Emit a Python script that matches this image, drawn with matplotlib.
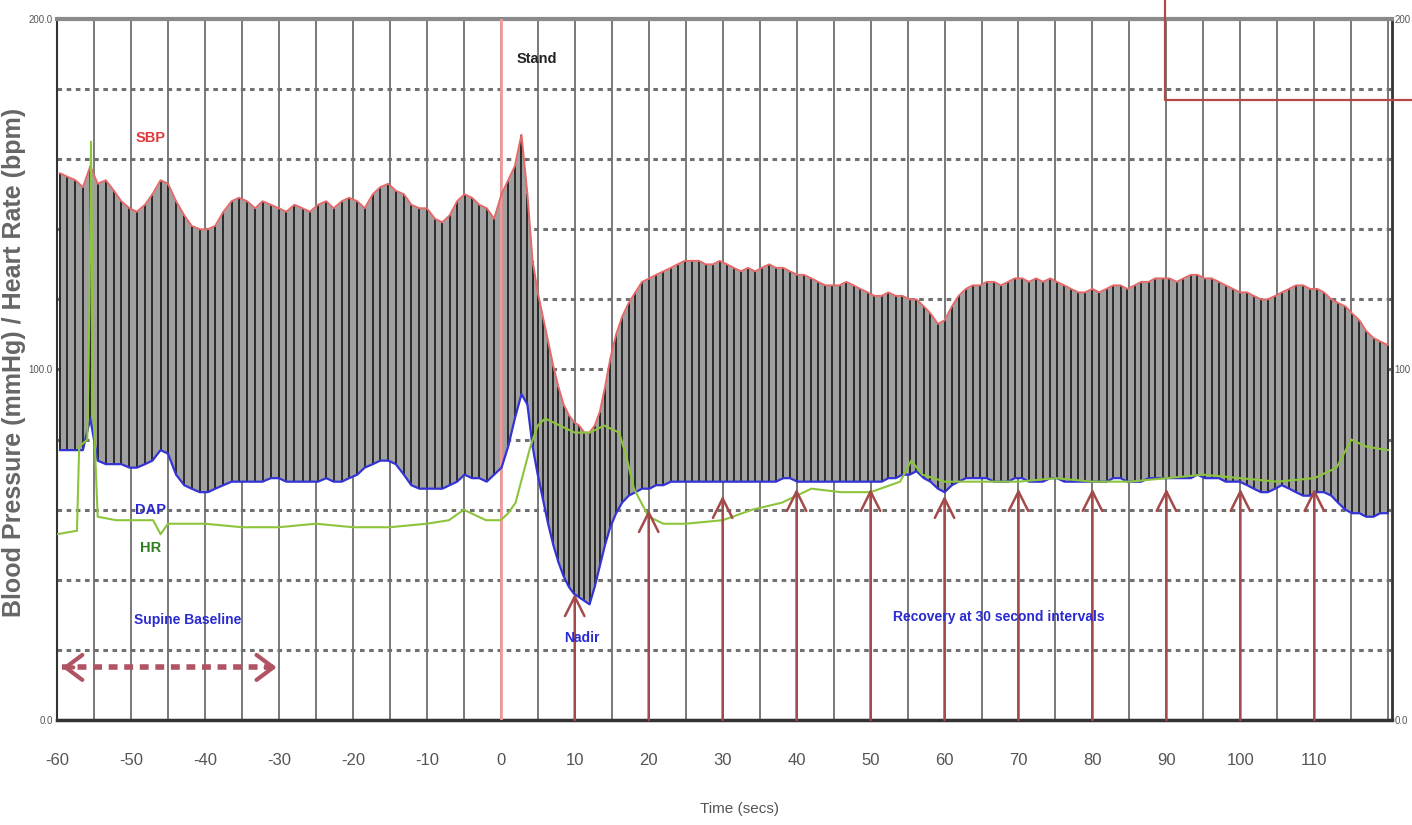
import matplotlib
matplotlib.use("Agg")
import matplotlib.pyplot as plt
from matplotlib.ticker import MultipleLocator, FixedLocator
from matplotlib.lines import Line2D

plt.rcParams["axes.unicode_minus"] = False

# ---------------- data ----------------
beat_t = [-59.6, -58.6, -57.5, -56.5, -55.5, -54.5, -53.4, -52.3, -51.3, -50.2,
          -49.2, -48.1, -47.1, -46.0, -45.0, -43.9, -42.8, -41.8, -40.7, -39.6,
          -38.6, -37.5, -36.4, -35.4, -34.3, -33.2, -32.2, -31.1, -30.0, -29.0,
          -27.9, -26.8, -25.8, -24.7, -23.6, -22.6, -21.5, -20.5, -19.4, -18.4,
          -17.3, -16.3, -15.2, -14.2, -13.1, -12.1, -11.0, -10.0, -8.9, -7.9,
          -6.9, -5.9, -4.9, -3.9, -2.9, -1.9, -0.9,
          0.1, 1.0, 1.9, 2.8, 3.6, 4.3, 5.0, 5.7, 6.4, 7.1,
          7.8, 8.5, 9.2, 9.9, 10.6, 11.3, 12.0, 12.7, 13.4, 14.1,
          14.8, 15.6, 16.4, 17.3, 18.2, 19.1, 20.1, 21.0, 22.0, 23.0,
          23.9, 24.9, 25.8, 26.8, 27.7, 28.7, 29.6, 30.6, 31.5, 32.5,
          33.4, 34.4, 35.3, 36.3, 37.2, 38.2, 39.1, 40.1, 41.0, 42.0,
          42.9, 43.9, 44.8, 45.8, 46.7, 47.7, 48.6, 49.6, 50.5, 51.5,
          52.4, 53.4, 54.3, 55.3, 56.2, 57.2, 58.1, 59.1, 60.0, 61.0,
          61.9, 62.9, 63.8, 64.8, 65.7, 66.7, 67.6, 68.6, 69.5, 70.5,
          71.4, 72.4, 73.3, 74.3, 75.2, 76.2, 77.1, 78.1, 79.0, 80.0,
          80.9, 81.9, 82.8, 83.8, 84.7, 85.7, 86.6, 87.6, 88.5, 89.5,
          90.4, 91.4, 92.3, 93.3, 94.2, 95.2, 96.1, 97.1, 98.0, 99.0,
          99.9, 100.9, 101.8, 102.8, 103.7, 104.7, 105.6, 106.6, 107.5, 108.5,
          109.4, 110.4, 111.3, 112.3, 113.2, 114.2, 115.1, 116.1, 117.0, 118.0,
          118.9, 119.9]

sbp = [156, 155, 154, 152, 158, 153, 154, 151, 148, 146,
       145, 147, 150, 154, 153, 148, 144, 141, 140, 140,
       141, 145, 148, 149, 148, 146, 148, 147, 146, 145,
       147, 146, 145, 147, 148, 146, 148, 149, 148, 146,
       150, 152, 153, 151, 150, 147, 146, 146, 143, 142,
       144, 148, 150, 149, 147, 146, 143,
       150, 154, 158, 167, 150, 131, 122, 115, 108, 101,
       95, 90, 87, 85, 84, 82, 82, 84, 88, 95,
       103, 110, 115, 119, 122, 125, 126, 127, 128, 129,
       130, 131, 131, 131, 130, 130, 131, 130, 129, 128,
       129, 128, 129, 130, 129, 129, 128, 127, 127, 126,
       125, 124, 124, 124, 125, 124, 123, 122, 121, 121,
       122, 121, 121, 120, 120, 118, 116, 113, 114, 118,
       121, 123, 124, 124, 125, 125, 124, 125, 126, 126,
       125, 126, 125, 126, 125, 124, 123, 122, 122, 123,
       122, 123, 124, 124, 123, 124, 125, 125, 126, 126,
       126, 125, 126, 127, 127, 126, 126, 125, 124, 123,
       122, 122, 121, 120, 120, 121, 122, 123, 124, 124,
       123, 123, 122, 120, 119, 118, 116, 114, 111, 109,
       108, 107]

dbp = [77, 77, 77, 77, 86, 74, 73, 73, 73, 72,
       72, 73, 74, 77, 76, 70, 67, 66, 65, 65,
       66, 67, 68, 68, 68, 68, 68, 69, 69, 68,
       68, 68, 68, 68, 69, 68, 68, 69, 70, 72,
       73, 74, 74, 73, 70, 67, 66, 66, 66, 66,
       67, 68, 70, 69, 69, 68, 70,
       72, 78, 86, 93, 90, 78, 70, 63, 56, 50,
       45, 41, 38, 36, 35, 34, 33, 38, 44, 50,
       55, 59, 62, 64, 65, 66, 66, 67, 67, 68,
       68, 68, 68, 68, 68, 68, 68, 68, 68, 68,
       68, 68, 68, 68, 68, 69, 69, 68, 68, 68,
       68, 68, 68, 68, 68, 68, 68, 68, 68, 68,
       69, 69, 70, 70, 71, 69, 68, 66, 65, 67,
       68, 69, 69, 69, 69, 68, 68, 68, 69, 69,
       68, 68, 68, 69, 69, 68, 68, 68, 68, 68,
       68, 68, 69, 69, 68, 68, 68, 69, 69, 69,
       69, 69, 69, 69, 70, 69, 69, 69, 68, 68,
       68, 67, 66, 65, 65, 66, 67, 66, 65, 64,
       64, 65, 65, 64, 62, 60, 59, 59, 58, 58,
       59, 59]

hr_t = [-60, -57.3, -57.0, -55.9, -55.6, -55.4, -55.1, -54.5, -52, -49,
        -47, -46, -45, -43, -40, -35, -30, -25, -20, -15,
        -10, -7, -5, -4, -2, 0, 1, 2, 3, 4,
        5, 6, 8, 10, 12, 14, 16, 17, 18, 20,
        22, 25, 30, 34, 38, 40, 42, 46, 50, 54,
        55.5, 57, 60, 65, 70, 75, 80, 85, 90, 95,
        100, 105, 110, 113, 115, 117, 120]
hr = [53, 54, 78, 80, 120, 165, 90, 58, 57, 57,
      57, 53, 56, 56, 56, 55, 55, 56, 55, 55,
      56, 57, 60, 59, 57, 57, 59, 62, 70, 78,
      84, 86, 84, 82, 82, 84, 82, 75, 66, 58,
      56, 56, 57, 60, 62, 64, 66, 65, 65, 68,
      74, 70, 68, 68, 68, 69, 68, 68, 69, 70,
      69, 68, 69, 72, 80, 78, 77]

xtick_vals = [-60, -50, -40, -30, -20, -10, 0, 10, 20, 30, 40, 50, 60, 70, 80, 90, 100, 110]
ytick_vals = [0, 100, 200]
ytick_labels = ["0.0", "100.0", "200.0"]
ytick_labels_right = ["0.0", "100", "200"]

recovery_t = [20, 30, 40, 50, 60, 70, 80, 90, 100, 110]
recovery_head = [60, 64, 66, 66, 64, 66, 66, 66, 66, 66]
nadir_t, nadir_head = 10, 36
stand_t = 0
supine_span = [-59.3, -30.3]
supine_y = 15

# ---------------- styling ----------------
FAM = ["Liberation Sans", "DejaVu Sans"]
W, H = 1412, 825
fig = plt.figure(figsize=(W / 100, H / 100), dpi=100)
ax = fig.add_axes([57 / W, 1 - 720 / H, (1392 - 57) / W, (720 - 19) / H])

ax.set_xlim(-60, 120.5)
ax.set_ylim(0, 200)

# grid
ax.xaxis.set_major_locator(FixedLocator(xtick_vals))
ax.xaxis.set_minor_locator(MultipleLocator(5))
ax.yaxis.set_major_locator(FixedLocator(ytick_vals))
ax.yaxis.set_minor_locator(MultipleLocator(20))
ax.set_yticklabels(ytick_labels)
ax.grid(which="both", axis="x", color="#6e6e6e", lw=1.3, ls="-")
ax.grid(which="both", axis="y", color="#707070", lw=2.2, ls=(0, (1.5, 1.5)))
ax.set_axisbelow(True)

# pressure waveform
ax.fill_between(beat_t, dbp, sbp, color="#a0a0a0", lw=0, zorder=2)
ax.vlines(beat_t, dbp, sbp, color="#2a2a2a", lw=1.4, zorder=3)

# stand marker
ax.axvline(stand_t, color="#f29a9a", lw=2, zorder=4)

# envelopes
ax.plot(beat_t, sbp, color="#e46a6a", lw=1.4, zorder=5)
ax.plot(beat_t, dbp, color="#3434d6", lw=1.6, zorder=5)
ax.plot(hr_t, hr, color="#8cc43c", lw=1.5, zorder=5)

# arrows
arrow_col = "#a34a4a"
astyle = "->,head_length=0.7,head_width=0.35"
for t, h in zip(recovery_t, recovery_head):
    ax.annotate("", xy=(t, h), xytext=(t, 0),
                arrowprops=dict(arrowstyle=astyle, color=arrow_col, lw=1.8,
                                mutation_scale=20, shrinkA=0, shrinkB=0), zorder=6)
ax.annotate("", xy=(nadir_t, nadir_head), xytext=(nadir_t, 0),
            arrowprops=dict(arrowstyle=astyle, color=arrow_col, lw=1.8,
                            mutation_scale=20, shrinkA=0, shrinkB=0), zorder=6)

# supine baseline double arrow
base_col = "#b05464"
ax.plot(supine_span, [supine_y, supine_y], color=base_col, lw=4,
        ls=(0, (1.6, 1.2)), zorder=6, solid_capstyle="butt")
hstyle = "->,head_length=0.6,head_width=0.45"
ax.annotate("", xy=(supine_span[0], supine_y), xytext=(supine_span[0] + 1.5, supine_y),
            arrowprops=dict(arrowstyle=hstyle, color=base_col, lw=3, mutation_scale=20,
                            shrinkA=0, shrinkB=0), zorder=6)
ax.annotate("", xy=(supine_span[1], supine_y), xytext=(supine_span[1] - 1.5, supine_y),
            arrowprops=dict(arrowstyle=hstyle, color=base_col, lw=3, mutation_scale=20,
                            shrinkA=0, shrinkB=0), zorder=6)

# text labels
tk = dict(family=FAM, fontweight="bold", zorder=7, ha="center", va="center")
ax.text(-47.4, 166, "SBP", color="#e03a3a", fontsize=10.5, **tk)
ax.text(-47.4, 60, "DAP", color="#2a2ad0", fontsize=10.5, **tk)
ax.text(-47.4, 49, "HR", color="#2f7f1f", fontsize=10.5, **tk)
ax.text(-42.3, 28.6, "Supine Baseline", color="#2a2ad0", fontsize=10, **tk)
ax.text(4.9, 188.6, "Stand", color="#222222", fontsize=10.5, **tk)
ax.text(11, 23.4, "Nadir", color="#2a2ad0", fontsize=10, **tk)
ax.text(67.3, 29.4, "Recovery at 30 second intervals", color="#2a2ad0", fontsize=10, **tk)

# spines
for s in ["left", "bottom", "right"]:
    ax.spines[s].set_color("#333333")
ax.spines["left"].set_linewidth(1.5)
ax.spines["bottom"].set_linewidth(2.5)
ax.spines["right"].set_linewidth(2.0)
ax.spines["top"].set_color("#8a8a8a")
ax.spines["top"].set_linewidth(3)

ax.tick_params(axis="x", which="both", length=0, pad=24, labelsize=12, labelcolor="#555555")
ax.tick_params(axis="y", which="both", length=0, pad=3, labelsize=7, labelcolor="#555555")
for lab in ax.get_xticklabels() + ax.get_yticklabels():
    lab.set_family(FAM)

# right-hand duplicate labels
ax2 = ax.twinx()
ax2.set_ylim(0, 200)
ax2.yaxis.set_major_locator(FixedLocator(ytick_vals))
ax2.set_yticklabels(ytick_labels_right)
ax2.tick_params(axis="y", length=0, pad=2, labelsize=7, labelcolor="#555555")
for lab in ax2.get_yticklabels():
    lab.set_family(FAM)
for s in ax2.spines.values():
    s.set_visible(False)

ax.set_xlabel("Time (secs)", fontsize=11, color="#555555", family=FAM)
ax.xaxis.set_label_coords((740 - 57) / (1392 - 57), -(802 - 720) / (720 - 19))
fig.text(14 / W, 1 - 362 / H, "Blood Pressure (mmHg) / Heart Rate (bpm)", rotation=90,
         ha="center", va="center", fontsize=18, color="#666666", family=FAM,
         fontweight="bold")

# red overlay box at top-right
fig.add_artist(Line2D([1165 / W, 1165 / W, 1.0], [1.0, 1 - 100 / H, 1 - 100 / H],
                      transform=fig.transFigure, color="#b24848", lw=1.6))

fig.savefig("out.png", dpi=100)
